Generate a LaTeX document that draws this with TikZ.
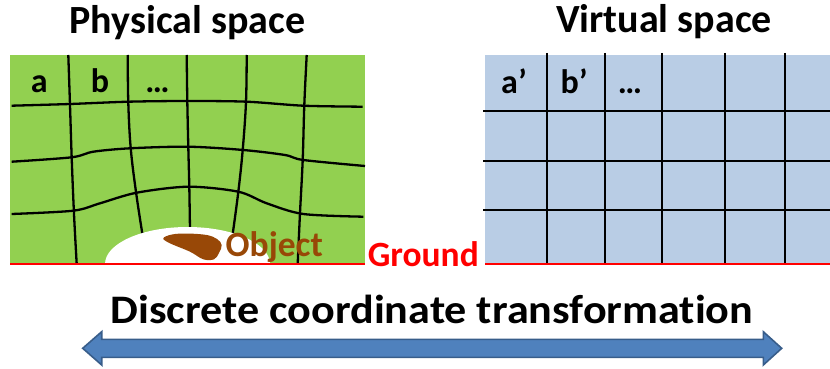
\documentclass[tikz,border=0pt]{standalone}
\usepackage{fontspec}
\setmainfont{Carlito}[Ligatures=NoCommon]
\begin{document}
\definecolor{fieldgreen}{HTML}{92D050}
\definecolor{fieldblue}{HTML}{B9CDE5}
\definecolor{objbrown}{HTML}{984807}
\definecolor{arrowfill}{HTML}{4F81BD}
\definecolor{arrowedge}{HTML}{385D8A}
\begin{tikzpicture}[x=1pt,y=-1pt,
  gridline/.style={black,line width=2.3pt},
  groundline/.style={red,line width=2.8pt},
  title/.style={anchor=base,inner sep=0pt,font=\fontsize{40}{48}\selectfont\bfseries},
  cell/.style={anchor=base,inner sep=0pt,font=\fontsize{34}{40}\selectfont\bfseries},
  tag/.style={anchor=base,inner sep=0pt,font=\fontsize{35.5}{42}\selectfont\bfseries}]
\useasboundingbox (0,0) rectangle (830,369);

% ---------------- physical space ----------------
\fill[fieldgreen] (10,55) rectangle (365,264);
% distorted grid
\begin{scope}[gridline]
\draw plot[smooth,tension=0.6] coordinates {(68.3,55) (70,105) (71.7,158) (74,214) (76.7,264)};
\draw plot[smooth,tension=0.6] coordinates {(127.7,55) (128.3,103) (130.7,148) (136,192) (142.7,236)};
\draw plot[smooth,tension=0.6] coordinates {(186.7,55) (187.3,101) (188.3,147) (189.3,187) (190,230)};
\draw plot[smooth,tension=0.6] coordinates {(246.7,55) (246,102) (242.7,150) (238.3,192) (232.7,234)};
\draw plot[smooth,tension=0.6] coordinates {(306.7,55) (304.3,105) (302.7,160) (300,213) (297.7,264)};
\draw plot[smooth,tension=0.5] coordinates {(11.7,105.7) (70,104) (128.3,101.7) (186.7,101) (246.7,101.7) (303.3,105.7) (362.7,106.7)};
\draw plot[smooth,tension=0.5] coordinates {(11.7,161.7) (71.7,157.3) (93.3,151.7) (130,148.3) (188.3,146.7) (243.3,150) (285,155) (303.3,160) (365,166)};
\draw plot[smooth,tension=0.5] coordinates {(11.7,214) (73.3,210.7) (100,203.3) (136.7,192.7) (188.3,186.7) (238.3,191.7) (266.7,203.3) (303.3,214) (363.3,216.7)};
\end{scope}
% cleared region around the object
\begin{scope}
\clip (10,55) rectangle (365,264);
\fill[white] (187.5,264) ellipse [x radius=82.5pt, y radius=37pt];
\end{scope}
% the object
\fill[objbrown] plot[smooth cycle,tension=0.6] coordinates {(163.3,238.3) (172,234.5) (186.7,233.5) (206.7,235) (217,239) (221.7,245) (219,253) (214,259.3) (203.3,259.3) (190,251.7) (170,243.3)};
\node[tag,anchor=base west,text=objbrown] (object) at (225.5,256) {Object};

\node[cell] (cella) at (39.2,92.7) {a};
\node[cell] (cellb) at (100,92.7) {b};
\node[cell] (celldots) at (157.5,92.7) {…};

% ---------------- virtual space ----------------
\fill[fieldblue] (485,55) rectangle (830,264);
\begin{scope}[gridline]
\foreach \gx in {546.7,605,662,725,785} \draw (\gx,53) -- (\gx,265);
\foreach \gy in {110.7,160.7,210} \draw (483,\gy) -- (830,\gy);
\end{scope}
\node[cell] (cellap) at (514,93.3) {a’};
\node[cell] (cellbp) at (574,93.3) {b’};
\node[cell] (celldotsp) at (630,93.3) {…};

% ---------------- ground ----------------
\draw[groundline] (10,264) -- (365,264);
\draw[groundline] (485,264) -- (830,264);
\node[tag,text=red] (ground) at (423.3,266) {Ground};

% ---------------- titles ----------------
\node[title] (physical) at (187.5,33.3) {Physical space};
\node[title] (virtual) at (664,32.3) {Virtual space};
\node[title,font=\fontsize{40.5}{48}\selectfont\bfseries,xscale=1.09] (dct) at (432,323.3) {Discrete coordinate transformation};

% ---------------- two-way arrow ----------------
\filldraw[fill=arrowfill,draw=arrowedge,line width=1.6pt,line join=miter]
  (82.7,348.3) -- (101.7,331.7) -- (101.7,339.3) -- (763.3,339.3) -- (763.3,331.7)
  -- (781.7,348.3) -- (763.3,365) -- (763.3,357.3) -- (101.7,357.3) -- (101.7,365) -- cycle;
\end{tikzpicture}
\end{document}
